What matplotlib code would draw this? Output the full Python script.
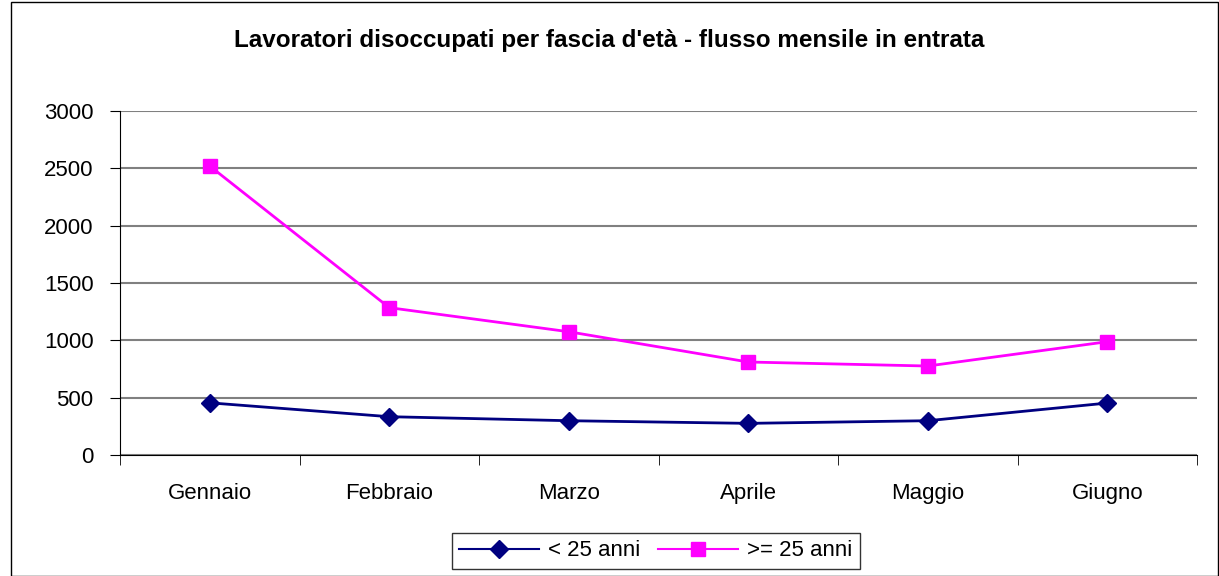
import matplotlib
matplotlib.use("Agg")
import matplotlib.pyplot as plt
from matplotlib.patches import Rectangle

months = ["Gennaio", "Febbraio", "Marzo", "Aprile", "Maggio", "Giugno"]
under25 = [455, 334, 299, 276, 299, 453]
over25 = [2520, 1285, 1075, 811, 776, 988]
yticks = [0, 500, 1000, 1500, 2000, 2500, 3000]

plt.rcParams['font.family'] = ['Liberation Sans', 'DejaVu Sans']

W, H = 1219, 576
fig = plt.figure(figsize=(W/100, H/100), dpi=100)
ax = fig.add_axes([120/W, 1-455/H, (1197-120)/W, (455-111)/H])

x = list(range(len(months)))
ax.plot(x, under25, color='#000080', marker='D', markersize=9, lw=2, label='< 25 anni', zorder=3)
ax.plot(x, over25, color='#FF00FF', marker='s', markersize=10, lw=2, label='>= 25 anni', zorder=3)

ax.set_xlim(-0.5, len(months)-0.5)
ax.set_ylim(0, 3000)
ax.set_yticks(yticks)
ax.set_yticklabels([str(v) for v in yticks], fontsize=16)
ax.yaxis.grid(True, color='#808080', lw=1.5)
ax.set_axisbelow(True)
ax.set_xticks([i for i in x])
ax.set_xticklabels(months, fontsize=16)
ax.tick_params(axis='x', length=0, pad=20)
ax.set_xticks([i - 0.5 for i in range(len(months)+1)], minor=True)
ax.tick_params(axis='x', which='minor', length=7, color='black', direction='out')
ax.tick_params(axis='y', length=7, color='black', direction='out', pad=12)
for s in ['top', 'right']:
    ax.spines[s].set_visible(False)
ax.spines['left'].set_color('black')
ax.spines['bottom'].set_color('black')

fig.text(0.5, 1-41/H, "Lavoratori disoccupati per fascia d'età - flusso mensile in entrata",
         ha='center', va='center', fontsize=17.5, fontweight='bold')

leg = fig.legend(loc='center', bbox_to_anchor=(656/W, 1-551/H), ncol=2, fontsize=16,
                 frameon=True, fancybox=False, edgecolor='black', handlelength=3.6,
                 columnspacing=0.8, handletextpad=0.4, borderpad=0.35)
leg.get_frame().set_linewidth(1)
for h in leg.legend_handles:
    h.set_linewidth(1.5)

fig.patches.append(Rectangle((11/W, 0), (W-12)/W, (H-1.5)/H, transform=fig.transFigure,
                             fill=False, edgecolor='black', lw=1))
fig.savefig("out.png", dpi=100)
